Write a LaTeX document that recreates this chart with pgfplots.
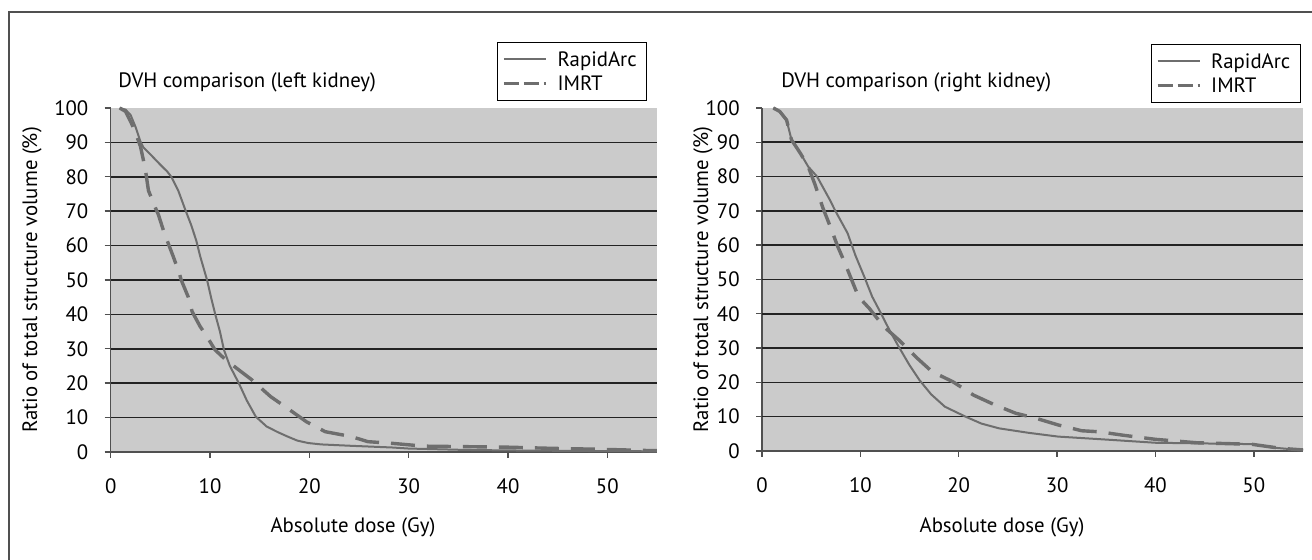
\documentclass[border=0pt]{standalone}
\usepackage{fontspec}
\setmainfont{PT Sans}
\usepackage{pgfplots}
\pgfplotsset{compat=1.18}
\definecolor{plotgray}{RGB}{203,203,203}
\definecolor{curvegray}{RGB}{110,110,110}
\definecolor{axisgray}{RGB}{80,80,80}
\definecolor{gridc}{RGB}{35,35,35}
\newcommand{\chartfont}{\fontsize{10.4}{12}\selectfont}

\pgfplotsset{
  dvh/.style={
    scale only axis,
    xmin=0, xmax=55, ymin=0, ymax=100,
    xtick={0,10,...,50}, ytick={0,10,...,100},
    axis x line*=bottom, axis y line*=left,
    axis line style={axisgray, line width=0.7pt, -},
    tick align=outside, major tick length=3pt,
    tick style={axisgray, line width=0.7pt},
    axis background/.style={fill=plotgray},
    /pgf/number format/assume math mode=true,
    tick label style={font=\chartfont},
    yticklabel style={inner sep=0pt, xshift=-8pt},
    xticklabel style={inner sep=0pt, yshift=-10pt},
    label style={font=\chartfont},
    clip=false,
    legend cell align=left,
    legend image code/.code={\draw[##1] (0pt,0pt) -- (21pt,0pt);},
    legend style={draw=black, line width=0.5pt, fill=white,
      font=\chartfont, inner xsep=2.5pt, inner ysep=2.5pt,
      row sep=0pt, column sep=2.5pt,
      nodes={inner xsep=2.5pt, inner ysep=0pt, text height=9.5pt, text depth=2.5pt}},
    ra/.style={curvegray, line width=1pt},
    imrt/.style={curvegray, line width=1.7pt, dash pattern=on 12pt off 6pt,
      legend image code/.code={\draw[curvegray, line width=1.6pt, dash pattern=on 7.5pt off 2.5pt]
        (0pt,0pt) -- (21pt,0pt);}},
  }
}

\begin{document}
\begin{tikzpicture}
\useasboundingbox (0,0) rectangle (656pt,280pt);
% outer frame
\draw[axisgray, line width=0.75pt] (4.5pt,0pt) -- (4.5pt,274pt) -- (660pt,274pt);

% ---- left kidney ----
\begin{axis}[dvh, anchor=south west, at={(55.35pt,54pt)}, width=273.15pt, height=172pt,
  xlabel={Absolute dose (Gy)},
  xlabel style={at={(axis description cs:0.4435,-0.220)}, anchor=center},
  ylabel={Ratio of total structure volume (\%)},
  ylabel style={at={(axis description cs:-0.144,0.5)}, anchor=center},
  legend style={at={(0.982,1.192)}, anchor=north east},
]
\pgfplotsinvokeforeach{10,20,...,90}{\draw[gridc, line width=0.8pt] (axis cs:0,#1) -- (axis cs:55,#1);}
\addplot[ra] coordinates {
(0.9,100) (1.5,99.5) (2.0,98) (2.5,94.5) (3.0,90.2) (3.3,88.5) (4.0,86.5) (5.0,83.5)
(5.7,81.5) (6.1,80) (6.8,76) (7.5,70.5) (8.1,66) (8.6,61.6) (9.0,57) (9.4,53) (9.7,50)
(10.1,45) (10.5,40.3) (11.0,35) (11.4,29.7) (12.0,25) (12.9,20) (13.7,15) (14.6,10.3)
(15.7,7.4) (16.8,5.8) (17.8,4.5) (18.8,3.3) (19.9,2.6) (21.2,2.2) (24.2,1.8) (28.4,1.3)
(30,1.0) (35.7,0.6) (40,0.45) (45,0.35) (50,0.25) (55,0.2)};
\addlegendentry{RapidArc}
\addplot[imrt] coordinates {
(0.9,100) (1.5,99) (2.1,95.5) (2.6,92) (3.0,88.8) (3.5,82) (3.8,76) (4.5,71) (4.8,69)
(5.4,63.6) (6.3,56.8) (6.9,52) (7.1,50) (7.8,45.1) (8.2,40.8) (9.0,36.5) (9.7,33.5)
(10.5,29.7) (11.5,27) (12.7,24.3) (14.2,21) (16.1,16.1) (17.8,12.7) (19.7,8.8) (21.6,5.9)
(24.2,4.5) (25.9,3.0) (28.4,2.5) (31.5,1.7) (35.7,1.55) (40,1.4) (44.3,1.07) (49.4,0.78)
(54.5,0.4) (55,0.4)};
\addlegendentry{IMRT}
\node[anchor=west, font=\chartfont, inner sep=0pt]
  at (axis description cs:0.0134,1.0756) {DVH comparison (left kidney)};
\end{axis}

% ---- right kidney ----
\begin{axis}[dvh, anchor=south west, at={(381pt,54.5pt)}, width=270.5pt, height=171.5pt,
  xlabel={Absolute dose (Gy)},
  xlabel style={at={(axis description cs:0.4436,-0.224)}, anchor=center},
  ylabel={Ratio of total structure volume (\%)},
  ylabel style={at={(axis description cs:-0.109,0.5)}, anchor=center},
  legend style={at={(0.996,1.187)}, anchor=north east},
]
\pgfplotsinvokeforeach{10,20,...,90}{\draw[gridc, line width=0.8pt] (axis cs:0,#1) -- (axis cs:55,#1);}
\addplot[ra] coordinates {
(1.15,100) (1.8,99) (2.5,96.5) (3.0,90.7) (3.9,86.8) (4.7,82.9) (5.6,80) (6.9,73.2)
(7.4,70.3) (8.7,63.5) (9.5,57) (10.4,50.8) (11.2,45) (12.1,40.1) (13.0,35) (13.9,30.4)
(15.0,25) (16.0,20.7) (17.2,16.5) (18.6,12.9) (20.7,10) (22.3,8) (24.1,6.6) (27.1,5.3)
(30.1,4.2) (35.7,3.2) (40,2.4) (45,2.2) (49.8,2.0) (51.9,1.0) (54.7,0.3) (55,0.3)};
\addlegendentry{RapidArc}
\addplot[imrt] coordinates {
(1.15,100) (1.8,99) (2.5,96.5) (3.0,90.7) (3.9,86.8) (4.7,82.9) (5.4,77.6) (6.2,70.8)
(7.0,65) (7.7,59.6) (8.4,55) (9.1,50) (9.8,45) (10.9,41.6) (12.4,36.2) (13.9,32.4)
(15.8,27) (17.3,23.1) (19.4,20.2) (21.5,16.3) (23.7,13.4) (25.8,11) (27.9,9.5) (30.1,7.6)
(32.5,5.9) (34.3,5.6) (36.7,4.6) (40,3.4) (44.2,2.4) (49.8,1.95) (52.7,0.8) (55,0.3)};
\addlegendentry{IMRT}
\node[anchor=west, font=\chartfont, inner sep=0pt]
  at (axis description cs:0.035,1.0758) {DVH comparison (right kidney)};
\end{axis}
\end{tikzpicture}
\end{document}
